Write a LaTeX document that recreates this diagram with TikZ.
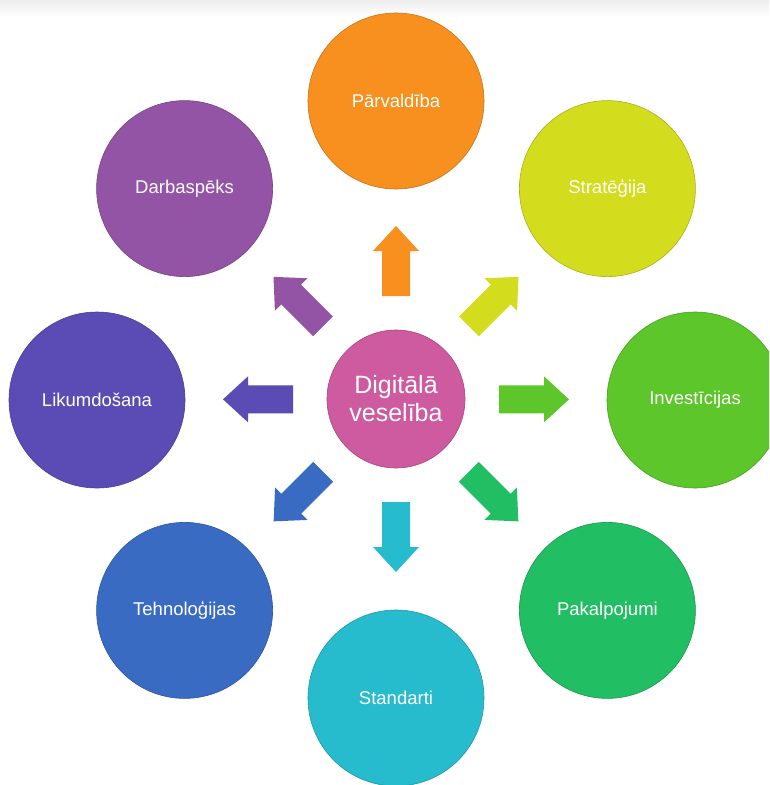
\documentclass[tikz,border=0pt]{standalone}
\usepackage{fontspec}
\setmainfont{Liberation Sans}
\usetikzlibrary{calc}
\definecolor{cOrange}{HTML}{F7901E}
\definecolor{cYellow}{HTML}{D4DC1E}
\definecolor{cLime}{HTML}{5CC62A}
\definecolor{cGreen}{HTML}{22BE64}
\definecolor{cCyan}{HTML}{26BCCE}
\definecolor{cBlue}{HTML}{3A6BC3}
\definecolor{cIndigo}{HTML}{5B4BB4}
\definecolor{cPurple}{HTML}{9354A5}
\definecolor{cPink}{HTML}{CE5A9F}
\begin{document}
\begin{tikzpicture}[x=1pt,y=-1pt,
  outer/.style={circle, fill=#1, draw=#1!80!black, line width=0.6pt,
    minimum size=176pt, inner sep=0pt, text=white,
    font=\fontsize{18.5}{22}\selectfont},
  hub/.style={circle, fill=cPink, draw=cPink!80!black, line width=0.6pt,
    minimum size=138pt, inner sep=0pt, text=white, align=center,
    font=\fontsize{25}{28}\selectfont},
  blockarrow/.pic={\path[pic actions] (0,-14) -- (45,-14) -- (45,-23) -- (70,0)
    -- (45,23) -- (45,14) -- (0,14) -- cycle;}
]
\useasboundingbox (0,0) rectangle (769,785);
\clip (0,0) rectangle (769,785);
\fill[white] (0,0) rectangle (769,785);
\shade[top color=gray!14, bottom color=white] (0,0) rectangle (769,17);

\node[hub] (hub) at (396,399) {Digitālā\\veselība};
\node[outer=cOrange] (n1) at (396,101) {Pārvaldība};
\node[outer=cYellow] (n2) at (607.4,188.6) {Stratēģija};
\node[outer=cLime]   (n3) at (695,400) {Investīcijas};
\node[outer=cGreen]  (n4) at (607.4,610.4) {Pakalpojumi};
\node[outer=cCyan]   (n5) at (396,698) {Standarti};
\node[outer=cBlue]   (n6) at (184.6,610.4) {Tehnoloģijas};
\node[outer=cIndigo] (n7) at (97,400) {Likumdošana};
\node[outer=cPurple] (n8) at (184.6,188.6) {Darbaspēks};

\pic[fill=cOrange, rotate=90]   at ($(hub)!103pt!(n1)$) {blockarrow};
\pic[fill=cYellow, rotate=45]   at ($(hub)!103pt!(n2)$) {blockarrow};
\pic[fill=cLime,   rotate=0]    at ($(hub)!103pt!(n3)$) {blockarrow};
\pic[fill=cGreen,  rotate=-45]  at ($(hub)!103pt!(n4)$) {blockarrow};
\pic[fill=cCyan,   rotate=-90]  at ($(hub)!103pt!(n5)$) {blockarrow};
\pic[fill=cBlue,   rotate=-135] at ($(hub)!103pt!(n6)$) {blockarrow};
\pic[fill=cIndigo, rotate=180]  at ($(hub)!103pt!(n7)$) {blockarrow};
\pic[fill=cPurple, rotate=135]  at ($(hub)!103pt!(n8)$) {blockarrow};
\end{tikzpicture}
\end{document}
